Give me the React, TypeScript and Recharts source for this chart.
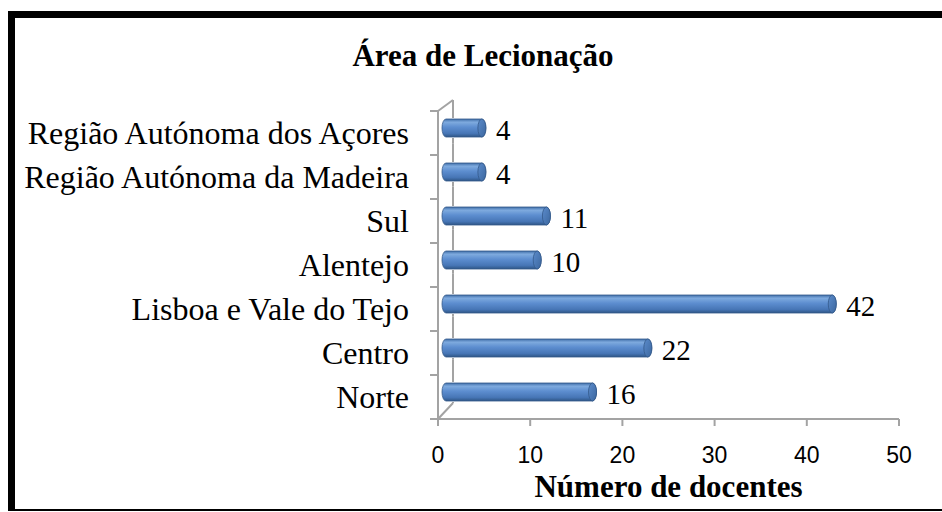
import { BarChart, Bar, XAxis, YAxis, LabelList } from 'recharts';

const regions = [
    'Região Autónoma dos Açores',
    'Região Autónoma da Madeira',
    'Sul',
    'Alentejo',
    'Lisboa e Vale do Tejo',
    'Centro',
    'Norte',
];
const docentes = [4, 4, 11, 10, 42, 22, 16];
const xTicks = [0, 10, 20, 30, 40, 50];

const data = regions.map((name, i) => ({ name, value: docentes[i] }));

const SERIF = "'Liberation Serif', 'Times New Roman', serif";
const SANS = "'Liberation Sans', Arial, sans-serif";
const GRID = '#a3a3a3';

// layout of the plot (chart is 942x512, placed at page origin)
const MARGIN = { top: 111, right: 43, bottom: 0, left: 0 };
const Y_AXIS_W = 438;
const AXIS_X = MARGIN.left + Y_AXIS_W;
const DEPTH_X = 15; // 3D wall depth
const BAR_SHIFT = -5; // bars sit a bit up/right, in the middle of the depth
const BAR_H = 18;

const wallDy = (i: number, n: number) => -11 - (5 * i) / n;

function CategoryTick(props: any) {
    const { y, payload, index, visibleTicksCount } = props;
    const n = visibleTicksCount || regions.length;
    const half = payload?.offset || 22;
    const top = y - half;
    const bottom = y + half;
    const last = index === n - 1;
    const dyTop = wallDy(index, n);
    const dyBot = wallDy(index + 1, n);
    const barTop = y + BAR_SHIFT - BAR_H / 2 - 1;
    const barBot = y + BAR_SHIFT + BAR_H / 2 + 1;
    const wx = AXIS_X + DEPTH_X;
    return (
        <g>
            <line x1={AXIS_X - 8} y1={top} x2={AXIS_X} y2={top} stroke={GRID} strokeWidth={2} />
            {last && <line x1={AXIS_X - 8} y1={bottom} x2={AXIS_X} y2={bottom} stroke={GRID} strokeWidth={2} />}
            <line x1={wx} y1={top + dyTop} x2={wx} y2={barTop} stroke={GRID} strokeWidth={2} />
            <line x1={wx} y1={barBot} x2={wx} y2={bottom + dyBot} stroke={GRID} strokeWidth={2} />
            {index === 0 && <line x1={AXIS_X} y1={top} x2={wx} y2={top + dyTop} stroke={GRID} strokeWidth={2} />}
            {last && <line x1={AXIS_X} y1={bottom} x2={wx} y2={bottom + dyBot} stroke={GRID} strokeWidth={2} />}
            <text x={AXIS_X - 29} y={y + 11} textAnchor="end" style={{ fontFamily: SERIF, fontSize: 32 }} fill="#000">
                {payload.value}
            </text>
        </g>
    );
}

function NumberTick(props: any) {
    const { x, y, payload } = props;
    return (
        <text x={x} y={y + 35} textAnchor="middle" style={{ fontFamily: SANS, fontSize: 23 }} fill="#000">
            {payload.value}
        </text>
    );
}

function Cylinder(props: any) {
    const { x, y, width, height } = props;
    const cy = y + height / 2 + BAR_SHIFT;
    const rx = 4;
    const ry = BAR_H / 2;
    const L = x + 8;
    const R = x + width + 7;
    const t = cy - ry;
    const b = cy + ry;
    const body = `M ${L} ${t} L ${R} ${t} A ${rx} ${ry} 0 0 1 ${R} ${b} L ${L} ${b} A ${rx} ${ry} 0 0 1 ${L} ${t} Z`;
    return (
        <g>
            <path d={body} fill="url(#cylBody)" stroke="#34598a" strokeWidth={0.8} />
            <ellipse cx={R} cy={cy} rx={rx} ry={ry} fill="url(#cylCap)" stroke="#34598a" strokeWidth={0.8} />
        </g>
    );
}

function ValueLabel(props: any) {
    const { x, y, width, height, value } = props;
    return (
        <text x={x + width + 21} y={y + height / 2 + 7} style={{ fontFamily: SERIF, fontSize: 29 }} fill="#000">
            {value}
        </text>
    );
}

function AxisTitle(props: any) {
    const vb = props.viewBox || { x: AXIS_X, y: 419, width: 461 };
    return (
        <text
            x={vb.x + vb.width / 2}
            y={vb.y + 78}
            textAnchor="middle"
            style={{ fontFamily: SERIF, fontWeight: 'bold', fontSize: 31 }}
            fill="#000"
        >
            Número de docentes
        </text>
    );
}

export default function App() {
    return (
        <div style={{ position: 'absolute', left: 0, top: 0, width: 942, height: 512, background: '#fff', overflow: 'hidden' }}>
            <div
                style={{
                    position: 'absolute',
                    left: 8,
                    top: 11,
                    width: 960,
                    height: 500,
                    boxSizing: 'border-box',
                    borderLeft: '7px solid #000',
                    borderTop: '7px solid #000',
                    borderBottom: '2px solid #000',
                }}
            />
            <div
                style={{
                    position: 'absolute',
                    left: 0,
                    width: 966,
                    top: 36,
                    textAlign: 'center',
                    fontFamily: SERIF,
                    fontWeight: 'bold',
                    fontSize: 31,
                    lineHeight: '40px',
                    color: '#000',
                }}
            >
                Área de Lecionação
            </div>
            <div style={{ position: 'absolute', left: 0, top: 0 }}>
                <BarChart width={942} height={512} data={data} layout="vertical" margin={MARGIN}>
                    <defs>
                        <linearGradient id="cylBody" x1="0" y1="0" x2="0" y2="1">
                            <stop offset="0%" stopColor="#3f6ea8" />
                            <stop offset="18%" stopColor="#7eaade" />
                            <stop offset="45%" stopColor="#5d8ed0" />
                            <stop offset="80%" stopColor="#4776b6" />
                            <stop offset="100%" stopColor="#2f5686" />
                        </linearGradient>
                        <linearGradient id="cylCap" x1="0" y1="0" x2="1" y2="1">
                            <stop offset="0%" stopColor="#5b8bcb" />
                            <stop offset="100%" stopColor="#3c679f" />
                        </linearGradient>
                    </defs>
                    <YAxis
                        type="category"
                        dataKey="name"
                        width={Y_AXIS_W}
                        axisLine={{ stroke: GRID, strokeWidth: 2 }}
                        tickLine={false}
                        tick={<CategoryTick />}
                        interval={0}
                    />
                    <XAxis
                        type="number"
                        domain={[0, 50]}
                        ticks={xTicks}
                        height={93}
                        axisLine={{ stroke: GRID, strokeWidth: 2 }}
                        tickLine={{ stroke: GRID, strokeWidth: 2 }}
                        tickSize={7}
                        tick={<NumberTick />}
                        label={<AxisTitle />}
                    />
                    <Bar dataKey="value" barSize={BAR_H} shape={<Cylinder />} isAnimationActive={false}>
                        <LabelList dataKey="value" content={<ValueLabel />} />
                    </Bar>
                </BarChart>
            </div>
        </div>
    );
}
